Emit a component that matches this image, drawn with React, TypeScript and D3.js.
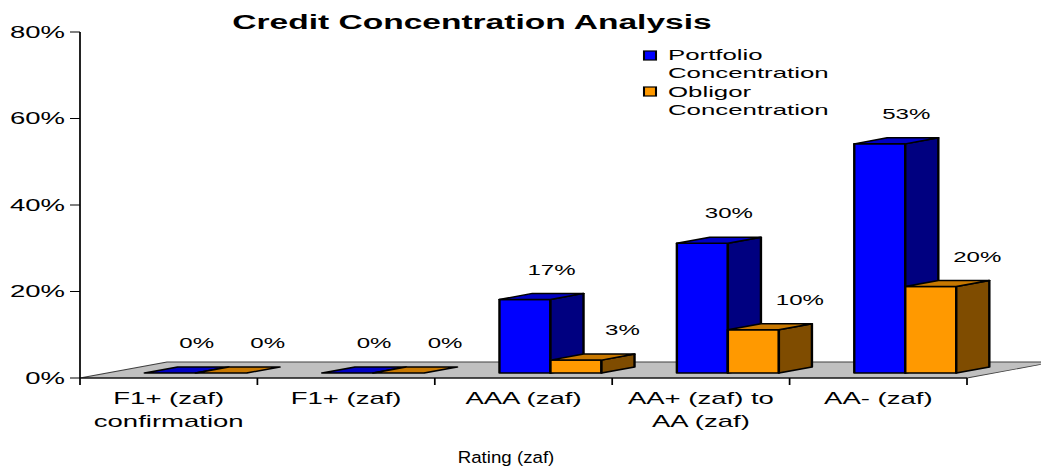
import React from 'react';
import * as d3 from 'd3';

const categories = [
  ['F1+ (zaf)', 'confirmation'],
  ['F1+ (zaf)'],
  ['AAA (zaf)'],
  ['AA+ (zaf) to', 'AA (zaf)'],
  ['AA- (zaf)'],
];
const portfolio = [0, 0, 0.17, 0.30, 0.53];
const obligor = [0, 0, 0.03, 0.10, 0.20];
const yTicks = [0, 0.2, 0.4, 0.6, 0.8];
const seriesNames = [['Portfolio', 'Concentration'], ['Obligor', 'Concentration']];

const W = 1041;
const H = 468;
// the source picture is stretched sideways, so draw narrow and scale x
const SX = 1.72;
const FONT = 'Arial, "Liberation Sans", sans-serif';

const palette = [
  { front: '#0000FF', top: '#0000C4', side: '#000080' },
  { front: '#FF9900', top: '#C87800', side: '#7F4C00' },
];

const App = () => {
  const u = (px: number) => px / SX;
  const depth = { dx: u(87), dy: -16 };
  const d0 = 0.31;
  const dw = 0.38;

  const xScale = d3.scaleBand<number>()
    .domain(categories.map((_, i) => i))
    .range([u(80), u(967)])
    .paddingInner(0.425)
    .paddingOuter(0.2125);

  const inner = d3.scaleBand<number>()
    .domain([0, 1])
    .range([0, xScale.bandwidth()]);

  const yScale = d3.scaleLinear()
    .domain([0, 0.8])
    .range([378, 32]);

  const fmt = d3.format('.0%');
  const step = xScale.step();
  const xLeft = u(80);
  const xRight = u(967);
  const y0 = yScale(0);

  const floor = d3.line()([
    [xLeft, y0],
    [xRight, y0],
    [xRight + depth.dx, y0 + depth.dy],
    [xLeft + depth.dx, y0 + depth.dy],
  ]) + 'Z';

  const series = [portfolio, obligor];

  const bars = categories.flatMap((_, i) => series.map((vals, s) => {
    const v = vals[i];
    const ox = depth.dx * d0;
    const oy = depth.dy * d0;
    const bx = depth.dx * dw;
    const by = depth.dy * dw;
    const x0 = (xScale(i) as number) + (inner(s) as number) + ox;
    const w = inner.bandwidth();
    const yb = y0 + oy;
    const yt = yScale(v) + oy;
    const line = d3.line();
    const top = line([[x0, yt], [x0 + bx, yt + by], [x0 + w + bx, yt + by], [x0 + w, yt]]) + 'Z';
    const side = line([[x0 + w, yt], [x0 + w + bx, yt + by], [x0 + w + bx, yb + by], [x0 + w, yb]]) + 'Z';
    const front = line([[x0, yt], [x0 + w, yt], [x0 + w, yb], [x0, yb]]) + 'Z';
    const cx = x0 + w / 2 + bx / 2;
    const cy = yt + by / 2;
    return { i, s, v, top, side, front, cx, cy, flat: v === 0 };
  }));

  return (
    <svg width={W} height={H} style={{ position: 'absolute', left: 0, top: 0, background: '#fff' }}
      fontFamily={FONT}>
      <g transform={`scale(${SX},1)`}>
        <text x={u(472)} y={29} textAnchor='middle' fontSize={19.5} fontWeight='bold'>
          Credit Concentration Analysis
        </text>

        {/* floor */}
        <path d={floor} fill='#C0C0C0' stroke='#404040' strokeWidth={0.8} />

        {/* y axis */}
        <line x1={xLeft} x2={xLeft} y1={yScale(0.8)} y2={y0} stroke='#000' strokeWidth={1} />
        {yTicks.map(t => (
          <g key={t}>
            <line x1={xLeft - u(10)} x2={xLeft} y1={yScale(t)} y2={yScale(t)} stroke='#000' strokeWidth={1} />
            <text x={u(65)} y={yScale(t)} dy='0.36em' textAnchor='end' fontSize={16}>{fmt(t)}</text>
          </g>
        ))}

        {/* x axis */}
        <line x1={xLeft} x2={xRight} y1={y0} y2={y0} stroke='#000' strokeWidth={1} />
        {d3.range(categories.length + 1).map(i => (
          <line key={i} x1={xLeft + i * step} x2={xLeft + i * step} y1={y0} y2={y0 + 7} stroke='#000' strokeWidth={1} />
        ))}
        {categories.map((lines, i) => (
          <text key={i} x={xLeft + (i + 0.5) * step} y={404} textAnchor='middle' fontSize={16}>
            {lines.map((l, k) => (
              <tspan key={k} x={xLeft + (i + 0.5) * step} dy={k === 0 ? 0 : 23}>{l}</tspan>
            ))}
          </text>
        ))}
        <text transform={`translate(${u(506)},463) scale(0.64,1)`} textAnchor='middle' fontSize={17}>
          Rating (zaf)
        </text>

        {/* bars */}
        {bars.map(b => (
          <g key={`${b.i}-${b.s}`} stroke='#000' strokeWidth={1.4} strokeLinejoin='round'>
            {!b.flat && <path d={b.front} fill={palette[b.s].front} />}
            {!b.flat && <path d={b.side} fill={palette[b.s].side} />}
            <path d={b.top} fill={palette[b.s].top} />
          </g>
        ))}

        {/* data labels */}
        {bars.map(b => (
          <text key={`l${b.i}-${b.s}`}
            x={b.cx + (b.s === 0 ? u(10) : u(30))}
            y={b.cy - 27}
            dy='0.36em'
            textAnchor='middle'
            fontSize={14}>
            {fmt(b.v)}
          </text>
        ))}

        {/* legend */}
        {seriesNames.map((lines, s) => (
          <g key={s}>
            <rect x={u(644)} y={51 + s * 36} width={u(12)} height={9}
              fill={palette[s].front} stroke='#000' strokeWidth={1.2} />
            <text x={u(668)} y={60 + s * 37} fontSize={15}>
              {lines.map((l, k) => (
                <tspan key={k} x={u(668)} dy={k === 0 ? 0 : 18.5}>{l}</tspan>
              ))}
            </text>
          </g>
        ))}
      </g>
    </svg>
  );
};

export default App;
